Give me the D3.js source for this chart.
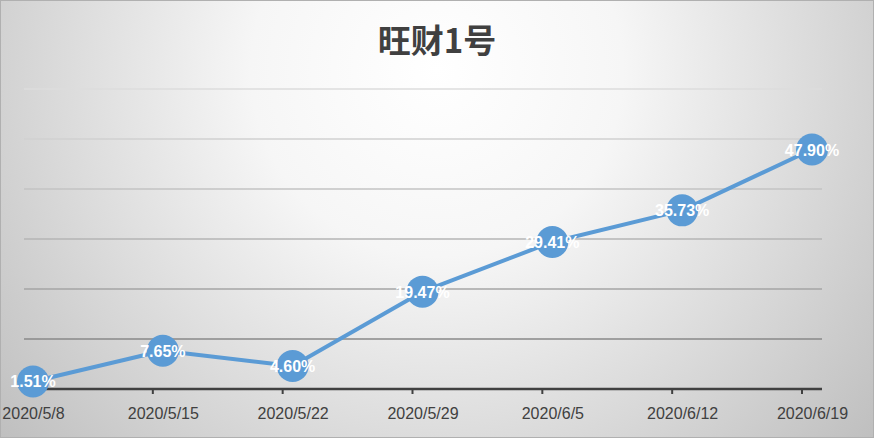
<!DOCTYPE html>
<html><head><meta charset="utf-8">
<script src="https://cdn.jsdelivr.net/npm/d3@7"></script>
<style>html,body{margin:0;padding:0;background:#fff;}svg{display:block;}</style>
</head><body>
<script>
const title = "旺财1号";
const categories = ["2020/5/8","2020/5/15","2020/5/22","2020/5/29","2020/6/5","2020/6/12","2020/6/19"];
const values = [1.51, 7.65, 4.60, 19.47, 29.41, 35.73, 47.90];
const yTicks = [10, 20, 30, 40, 50, 60];
const gridColors = ["#888888","#a4a4a4","#b4b4b4","#c3c3c3","#d0d0d0","#dcdcdc"];

const W = 874, H = 438;
const svg = d3.select("body").append("svg").attr("width", W).attr("height", H);
const defs = svg.append("defs");
const rg = defs.append("radialGradient").attr("id","bg").attr("gradientUnits","userSpaceOnUse")
  .attr("cx", 437).attr("cy", 70).attr("r", 620).attr("fx",437).attr("fy",70);
rg.append("stop").attr("offset","0%").attr("stop-color","#ffffff");
rg.append("stop").attr("offset","30%").attr("stop-color","#f6f6f6");
rg.append("stop").attr("offset","100%").attr("stop-color","#b8b8b8");
svg.append("rect").attr("x",0.5).attr("y",0.5).attr("width",W-1).attr("height",H-1)
  .attr("fill","url(#bg)").attr("stroke","#b0b0b0");

const plotL = 24, plotR = 822, axisY = 389;
const x = d3.scalePoint().domain(categories).range([33, 812]);
const y = d3.scaleLinear().domain([0, 60]).range([axisY, 89]);

// gridlines
svg.append("g").selectAll("line").data(yTicks).join("line")
  .attr("x1", plotL).attr("x2", plotR)
  .attr("y1", d => y(d)).attr("y2", d => y(d))
  .attr("stroke", (d,i) => gridColors[i]).attr("stroke-width", 1.6);

// x axis
const xAxis = d3.axisBottom(x).tickSize(0).tickPadding(19);
const ax = svg.append("g").attr("transform", `translate(0,${axisY})`).call(xAxis);
ax.select(".domain").remove();
ax.selectAll("text").attr("fill","#404040").attr("font-family","Liberation Sans, Arial, sans-serif").attr("font-size", 16);
svg.append("line").attr("x1", plotL).attr("x2", plotR).attr("y1", axisY).attr("y2", axisY)
  .attr("stroke","#404040").attr("stroke-width", 2.5);
svg.append("g").selectAll("line").data(categories.slice(1)).join("line")
  .attr("x1", d => x(d) - 10).attr("x2", d => x(d) - 10)
  .attr("y1", axisY).attr("y2", axisY + 5)
  .attr("stroke","#404040").attr("stroke-width", 2);

// line
const line = d3.line().x((d,i) => x(categories[i])).y(d => y(d));
svg.append("path").datum(values).attr("d", line)
  .attr("fill","none").attr("stroke","#5b9bd5").attr("stroke-width", 4).attr("stroke-linejoin","round");

svg.append("g").selectAll("circle").data(values).join("circle")
  .attr("cx", (d,i) => x(categories[i])).attr("cy", d => y(d)).attr("r", 16)
  .attr("fill","#5b9bd5");

svg.append("g").selectAll("text").data(values).join("text")
  .attr("x", (d,i) => x(categories[i])).attr("y", d => y(d) + 6)
  .attr("text-anchor","middle").attr("fill","#ffffff").attr("font-weight","bold")
  .attr("font-family","Liberation Sans, Arial, sans-serif").attr("font-size", 16)
  .text(d => d.toFixed(2) + "%");

svg.append("text").attr("x", 437).attr("y", 53).attr("text-anchor","middle")
  .attr("fill","#404040").attr("font-weight","bold")
  .attr("font-family","Noto Sans CJK SC, sans-serif").attr("font-size", 33)
  .text(title);
</script>
</body></html>
